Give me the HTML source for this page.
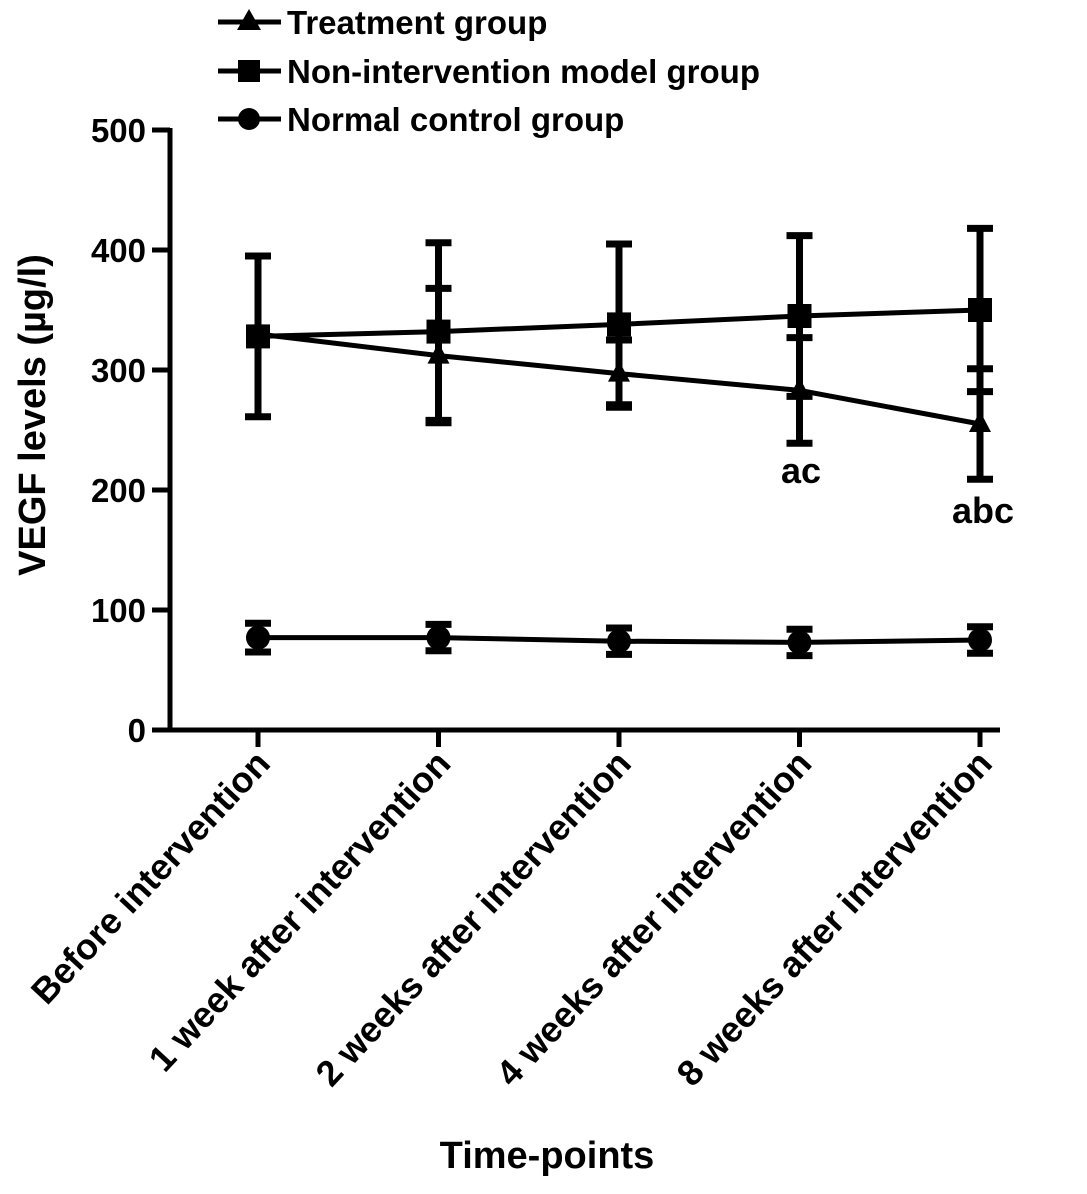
<!DOCTYPE html>
<html><head><meta charset="utf-8"><style>
html,body{margin:0;padding:0;background:#fff}
svg text{font-family:"Liberation Sans",Arial,sans-serif;font-weight:bold;fill:#000}
</style></head><body>
<svg id="chart" width="1087" height="1189" viewBox="0 0 1087 1189" xmlns="http://www.w3.org/2000/svg">
<g id="legend">
 <g>
  <line x1="218" y1="22" x2="281" y2="22" stroke="#000" stroke-width="5"/>
  <polygon points="249,9 261,30 237,30" fill="#000"/>
  <text x="287" y="34" font-size="33">Treatment group</text>
 </g>
 <g>
  <line x1="218" y1="71" x2="281" y2="71" stroke="#000" stroke-width="5"/>
  <rect x="238" y="60" width="22" height="22" fill="#000"/>
  <text x="287" y="83" font-size="33">Non-intervention model group</text>
 </g>
 <g>
  <line x1="218" y1="119" x2="281" y2="119" stroke="#000" stroke-width="5"/>
  <circle cx="249" cy="119" r="11" fill="#000"/>
  <text x="287" y="131" font-size="33">Normal control group</text>
 </g>
</g>
<g id="axes"></g>
<g id="marks"></g>
<text font-size="38" text-anchor="middle" transform="translate(45,415) rotate(-90)">VEGF levels (µg/l)</text>
<text font-size="38" text-anchor="middle" x="547" y="1168">Time-points</text>
<text font-size="36" text-anchor="middle" x="801" y="483">ac</text>
<text font-size="36" text-anchor="middle" x="983" y="523">abc</text>
</svg>
<script>
const categories = ["Before intervention","1 week after intervention","2 weeks after intervention","4 weeks after intervention","8 weeks after intervention"];
const yTicks = [0,100,200,300,400,500];
const treatmentMean = [330,312,297,283,255];
const treatmentErr = [0,56,28,44,46];
const modelMean = [328,332,338,345,350];
const modelErr = [67,74,67,67,68];
const normalMean = [77,77,74,73,75];
const normalErr = [12,11,11,11,11];

const NS="http://www.w3.org/2000/svg";
const y0=730, y500=130, xs0=258, xstep=180.5, axisX=170;
function yScale(v){return y0-(v/500)*(y0-y500);}
function xScale(i){return xs0+i*xstep;}
function mk(tag,attrs,parent){const e=document.createElementNS(NS,tag);for(const k in attrs)e.setAttribute(k,attrs[k]);parent.appendChild(e);return e;}
const axes=document.getElementById('axes'), marks=document.getElementById('marks');

let yl=mk('line',{x1:axisX,y1:yScale(500)-2,x2:axisX,y2:y0+2,stroke:'#000','stroke-width':5},axes);


let xl=mk('line',{x1:152,y1:y0,x2:1000,y2:y0,stroke:'#000','stroke-width':5},axes);


yTicks.forEach(t=>{
 const y=yScale(t);
 const tk=mk('line',{x1:152,y1:y,x2:axisX,y2:y,stroke:'#000','stroke-width':5},axes);
 
 
 const tx=mk('text',{x:146,y:y+12,'font-size':33,'text-anchor':'end'},axes);
 tx.textContent=t;
 
 
});
categories.forEach((c,i)=>{
 const x=xScale(i);
 const tk=mk('line',{x1:x,y1:y0,x2:x,y2:747,stroke:'#000','stroke-width':5},axes);
 
 
 const tx=mk('text',{'font-size':36,'text-anchor':'end',transform:`translate(${x+14},${765}) rotate(-47)`},axes);
 tx.textContent=c;
 
 
});

function series(name,mean,err,marker){
 const g=mk('g',{},marks);
 
 
 const pts=mean.map((v,i)=>xScale(i)+','+yScale(v)).join(' ');
 const pl=mk('polyline',{points:pts,fill:'none',stroke:'#000','stroke-width':5},g);
 
 
 mean.forEach((v,i)=>{
  const x=xScale(i);
  if(err[i]>0){
   const yt=yScale(v+err[i]), yb=yScale(v-err[i]);
   const eb=mk('path',{d:`M${x},${yt}V${yb}M${x-13},${yt}H${x+13}M${x-13},${yb}H${x+13}`,stroke:'#000','stroke-width':7,fill:'none'},g);
   
   
  }
  const y=yScale(v);
  let m;
  if(marker==='tri') m=mk('polygon',{points:`${x},${y-13} ${x+11},${y+8} ${x-11},${y+8}`,fill:'#000'},g);
  else if(marker==='sq') m=mk('rect',{x:x-12,y:y-12,width:24,height:24,fill:'#000'},g);
  else m=mk('circle',{cx:x,cy:y,r:12,fill:'#000'},g);
  
  
 });
}
series('normal',normalMean,normalErr,'circ');
series('model',modelMean,modelErr,'sq');
series('treatment',treatmentMean,treatmentErr,'tri');
</script>
</body></html>
